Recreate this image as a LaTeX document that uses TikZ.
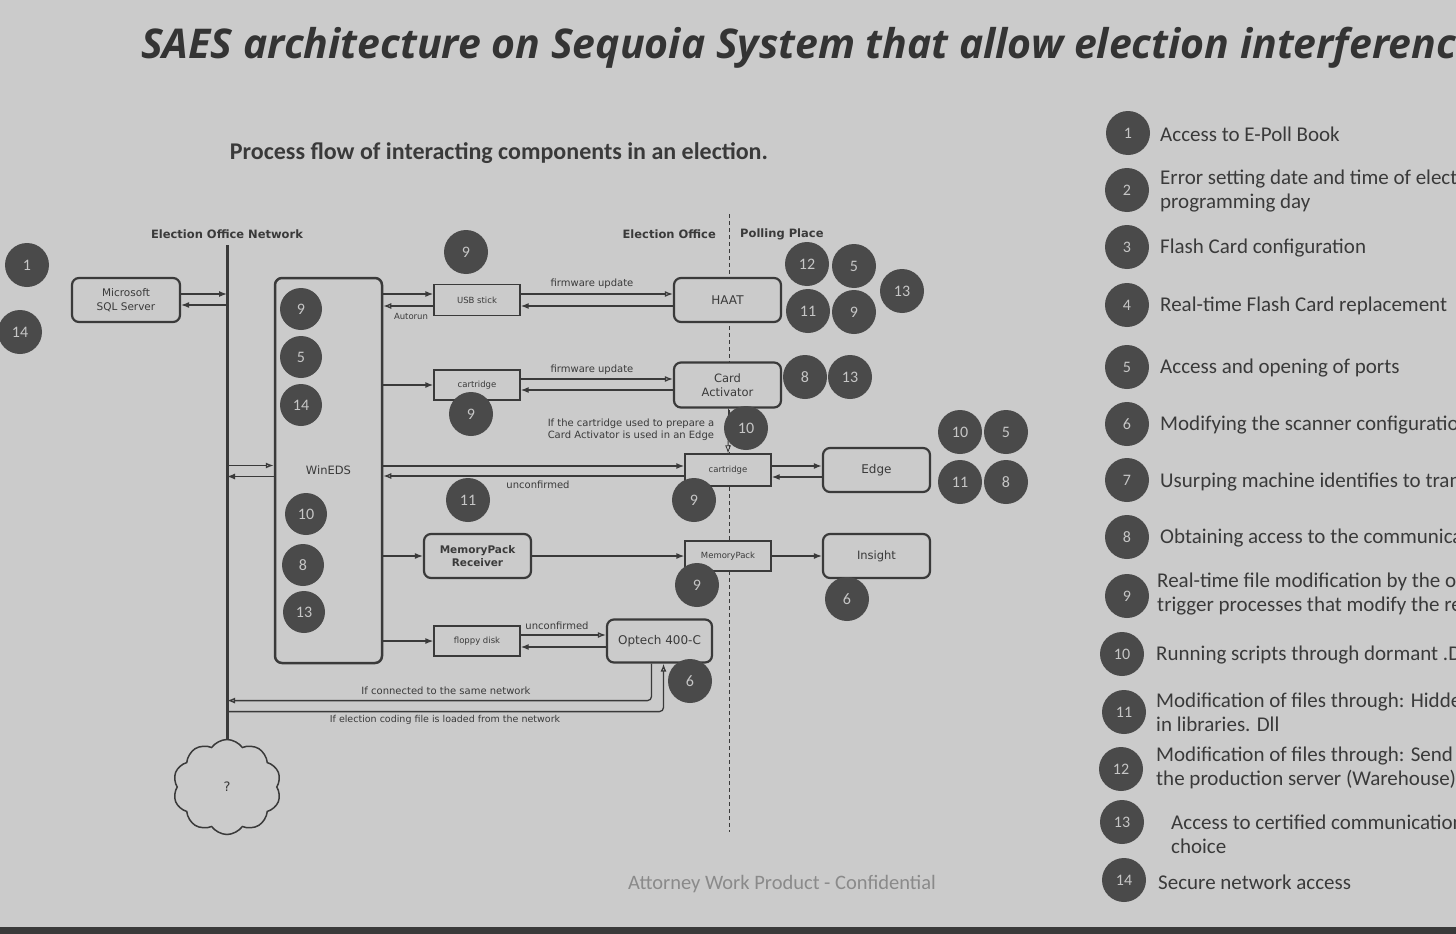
\documentclass[tikz,border=0pt]{standalone}
\usepackage{fontspec}
\setmainfont{Carlito}
\newfontfamily\titlefont{Open Sans}
\newfontfamily\djv{DejaVu Sans}
\usetikzlibrary{shapes.symbols,arrows.meta}
\definecolor{bg}{HTML}{CBCBCB}
\definecolor{ink}{HTML}{3A3A3A}
\definecolor{badge}{HTML}{4A4A4A}
\definecolor{badgetxt}{HTML}{C6C6C6}
\definecolor{foot}{HTML}{8A8A8A}
\definecolor{strip}{HTML}{3A3A3A}
\newcommand\fsz[2]{\fontsize{#1}{#2}\selectfont}
\begin{document}
\begin{tikzpicture}[x=1pt,y=-1pt,
  rbox/.style={draw=ink, line width=2.2pt, rounded corners=7pt, fill=bg, align=center, text=ink, inner sep=0pt},
  sbox/.style={draw=ink, line width=1.3pt, fill=bg, text=ink, inner sep=0pt, font=\djv\fsz{8.5}{9}},
  badgenode/.style={circle, fill=badge, text=badgetxt, minimum size=44pt, inner sep=0pt, font=\fsz{16}{16}},
  fl/.style={draw=ink, line width=1.3pt, -{Latex[length=8pt,width=6pt]}},
  op/.style={draw=ink, line width=1.3pt, -{Latex[open,length=8pt,width=6pt]}},
  lbl/.style={text=ink, font=\djv\fsz{10}{11}, inner sep=1pt},
  hdr/.style={text=ink, font=\djv\bfseries\fsz{11.5}{13}, inner sep=0pt},
  legtxt/.style={text=ink, font=\fsz{21}{24}, anchor=west, align=left, inner sep=0pt}
]
\useasboundingbox (0,0) rectangle (1456,934);
\clip (0,0) rectangle (1456,934);
\fill[bg] (0,0) rectangle (1456,934);
\fill[strip] (0,927) rectangle (1456,934);

% title
\node[anchor=west, text=ink!90!black, font=\titlefont\bfseries\itshape\fsz{41}{46}, inner sep=0pt] (title) at (141,48) {SAES architecture on Sequoia System that allow election interference};
\node[text=ink, font=\bfseries\fsz{24}{28}, inner sep=0pt] (subtitle) at (499,153) {Process flow of interacting components in an election.};

% headers
\node[hdr] (hnet) at (227,234) {Election Office Network};
\node[hdr, anchor=east] (hoff) at (716,234) {Election Office};
\node[hdr, anchor=west] (hpoll) at (740,234) {Polling Place};

% separator
\coordinate (septop) at (729,214);
\coordinate (sepbot) at (729,832);
\draw[ink, line width=0.8pt, dash pattern=on 4pt off 3pt] (septop) -- (sepbot);

% nodes
\node[rbox, minimum width=108pt, minimum height=44pt, font=\djv\fsz{10.5}{14}] (sql) at (126,300) {Microsoft\\SQL Server};
\node[rbox, line width=2.5pt, minimum width=107pt, minimum height=385pt, font=\djv\fsz{11.5}{14}] (wineds) at (328.5,470.5) {WinEDS};
\node[sbox, minimum width=86pt, minimum height=31pt] (usb) at (477,300) {USB stick};
\node[rbox, minimum width=107pt, minimum height=44pt, font=\djv\fsz{12}{13}] (haat) at (727.5,300) {HAAT};
\node[sbox, minimum width=86pt, minimum height=30pt] (cart1) at (477,385) {cartridge};
\node[rbox, minimum width=107pt, minimum height=45pt, font=\djv\fsz{11.5}{14}] (ca) at (727.5,385) {Card\\Activator};
\node[sbox, minimum width=86pt, minimum height=32pt] (cart2) at (728,470) {cartridge};
\node[rbox, minimum width=107pt, minimum height=44pt, font=\djv\fsz{12}{13}] (edge) at (876.5,470) {Edge};
\node[rbox, minimum width=107pt, minimum height=44pt, font=\djv\bfseries\fsz{10.5}{13}] (mpr) at (477.5,556) {MemoryPack\\Receiver};
\node[sbox, minimum width=86pt, minimum height=30pt] (mp) at (728,556) {MemoryPack};
\node[rbox, minimum width=107pt, minimum height=44pt, font=\djv\fsz{11.5}{13}] (insight) at (876.5,556) {Insight};
\node[sbox, minimum width=86pt, minimum height=30pt] (floppy) at (477,641) {floppy disk};
\node[rbox, minimum width=105pt, minimum height=43pt, font=\djv\fsz{12}{14}] (optech) at (659.5,641) {Optech 400-C};
\node[cloud, cloud puffs=10, cloud puff arc=110, aspect=1.13, draw=ink, line width=1.5pt, minimum width=108pt, minimum height=95pt, text=ink, font=\djv\fsz{13}{14}, inner sep=0pt] (cloud) at (227,787) {?};

% network line
\coordinate (nettop) at (227,245);
\draw[ink, line width=3pt] (nettop) -- (cloud.north);

% helper points
\path ([yshift=6pt]sql.east) coordinate (sqlA) ([yshift=-5pt]sql.east) coordinate (sqlB)
      ([yshift=5pt]wineds.west) coordinate (wA) ([yshift=-6pt]wineds.west) coordinate (wB)
      ([yshift=6pt]usb.west) coordinate (usbA) ([yshift=-6pt]usb.west) coordinate (usbB)
      ([yshift=4pt]cart2.west) coordinate (c2A) ([yshift=-6pt]cart2.west) coordinate (c2B)
      ([xshift=-8pt,yshift=-37pt]optech.south) coordinate (o1)
      ([xshift=4pt,yshift=-48pt]optech.south) coordinate (o2);

% connectors
\draw[fl] (sqlA) -- (nettop |- sqlA);
\draw[fl] (nettop |- sqlB) -- (sqlB);
\draw[op] (nettop |- wA) -- (wA);
\draw[fl] (wB) -- (nettop |- wB);

\draw[fl] (wineds.east |- usbA) -- (usbA);
\draw[op] (usbB) -- (wineds.east |- usbB);
\draw[op] ([yshift=6pt]usb.east) -- ([yshift=6pt]haat.west);
\draw[fl] ([yshift=-6pt]haat.west) -- ([yshift=-6pt]usb.east);

\draw[fl] (wineds.east |- cart1.west) -- (cart1.west);
\draw[op] ([yshift=6pt]cart1.east) -- ([yshift=6pt]ca.west);
\draw[fl] ([yshift=-5pt]ca.west) -- ([yshift=-5pt]cart1.east);
\draw[op, line width=0.8pt] ([xshift=1pt]ca.south) -- ([xshift=0pt]cart2.north);

\draw[fl, line width=2.6pt] (wineds.east |- c2A) -- (c2A);
\draw[op] (c2B) -- (wineds.east |- c2B);
\draw[fl, line width=2pt] ([yshift=4pt]cart2.east) -- ([yshift=4pt]edge.west);
\draw[fl] ([yshift=-7pt]edge.west) -- ([yshift=-7pt]cart2.east);

\draw[fl] (wineds.east |- mpr.west) -- (mpr.west);
\draw[fl] (mpr.east) -- (mp.west);
\draw[fl] (mp.east) -- (insight.west);

\draw[fl] (wineds.east |- floppy.west) -- (floppy.west);
\draw[op] ([yshift=6pt]floppy.east) -- ([yshift=6pt]optech.west);
\draw[fl] ([yshift=-6pt]optech.west) -- ([yshift=-6pt]floppy.east);

\draw[op, rounded corners=4pt] ([xshift=-8pt]optech.south) -- (o1) -- (nettop |- o1);
\draw[op, rounded corners=4pt] (nettop |- o2) -- (o2) -- ([xshift=4pt]optech.south);

% labels
\node[lbl] (l1) at (592,284) {firmware update};
\node[lbl] (l2) at (592,370) {firmware update};
\node[lbl, font=\djv\fsz{8.5}{9}] (l3) at (411,316) {Autorun};
\node[lbl] (l4) at (538,485) {unconfirmed};
\node[lbl] (l5) at (557,626) {unconfirmed};
\node[lbl, align=left, font=\djv\fsz{10}{12}] (l6) at (631,430) {If the cartridge used to prepare a\\Card Activator is used in an Edge};
\node[lbl] (l7) at (446,691) {If connected to the same network};
\node[lbl, font=\djv\fsz{9.5}{10}] (l8) at (445,720) {If election coding file is loaded from the network};

% badges in diagram
\node[badgenode] (b1) at (27,265) {1};
\node[badgenode] (b14a) at (20,332) {14};
\node[badgenode, minimum size=42pt] (w9) at (301,309) {9};
\node[badgenode, minimum size=42pt] (w5) at (301,357) {5};
\node[badgenode, minimum size=42pt] (w14) at (301,405) {14};
\node[badgenode, minimum size=42pt] (w10) at (306,514) {10};
\node[badgenode, minimum size=42pt] (w8) at (303,565) {8};
\node[badgenode, minimum size=42pt] (w13) at (304,612) {13};
\node[badgenode] (u9) at (466,252) {9};
\node[badgenode] (h12) at (807,264) {12};
\node[badgenode] (h5) at (854,266) {5};
\node[badgenode] (h11) at (808,311) {11};
\node[badgenode] (h9) at (854,312) {9};
\node[badgenode] (h13) at (902,291) {13};
\node[badgenode] (c9) at (471,414) {9};
\node[badgenode] (a8) at (805,377) {8};
\node[badgenode] (a13) at (850,377) {13};
\node[badgenode] (n10) at (746,428) {10};
\node[badgenode] (e10) at (960,432) {10};
\node[badgenode] (e5) at (1006,432) {5};
\node[badgenode] (e11) at (960,482) {11};
\node[badgenode] (e8) at (1006,482) {8};
\node[badgenode] (x11) at (468,500) {11};
\node[badgenode] (x9) at (694,500) {9};
\node[badgenode] (m9) at (697,585) {9};
\node[badgenode] (i6) at (847,599) {6};
\node[badgenode] (o6) at (690,681) {6};

% footer
\node[text=foot, font=\fsz{20.5}{22}, inner sep=0pt] (footer) at (782,884) {Attorney Work Product - Confidential};

% legend
\node[badgenode] (k1) at (1128,133) {1};
\node[badgenode] (k2) at (1127,190) {2};
\node[badgenode] (k3) at (1127,247) {3};
\node[badgenode] (k4) at (1127,305) {4};
\node[badgenode] (k5) at (1127,367) {5};
\node[badgenode] (k6) at (1127,424) {6};
\node[badgenode] (k7) at (1127,480) {7};
\node[badgenode] (k8) at (1127,537) {8};
\node[badgenode] (k9) at (1127,596) {9};
\node[badgenode] (k10) at (1122,654) {10};
\node[badgenode] (k11) at (1124,712) {11};
\node[badgenode] (k12) at (1121,769) {12};
\node[badgenode] (k13) at (1122,822) {13};
\node[badgenode] (k14) at (1124,880) {14};

\node[legtxt] (t1) at (1160,134) {Access to E-Poll Book};
\node[legtxt] (t2) at (1160,191) {Error setting date and time of election\\programming day};
\node[legtxt] (t3) at (1160,248) {Flash Card configuration};
\node[legtxt] (t4) at (1160,306) {Real-time Flash Card replacement};
\node[legtxt] (t5) at (1160,368) {Access and opening of ports};
\node[legtxt] (t6) at (1160,425) {Modifying the scanner configuration};
\node[legtxt] (t7) at (1160,482) {Usurping machine identifies to transmit};
\node[legtxt] (t8) at (1160,538) {Obtaining access to the communications};
\node[legtxt] (t9) at (1157,594) {Real-time file modification by the operator\\trigger processes that modify the results};
\node[legtxt] (t10) at (1156,655) {Running scripts through dormant .DLL};
\node[legtxt] (t11) at (1156,712) {Modification of files through: Hidden\\in libraries. Dll};
\node[legtxt] (t12) at (1156,768) {Modification of files through: Send\\the production server (Warehouse)};
\node[legtxt] (t13) at (1171,834) {Access to certified communications\\choice};
\node[legtxt] (t14) at (1158,882) {Secure network access};
\end{tikzpicture}
\end{document}
